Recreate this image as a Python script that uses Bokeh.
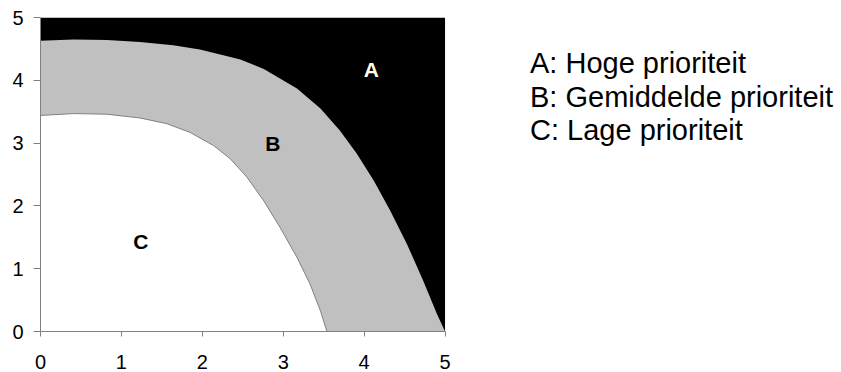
from bokeh.plotting import figure
from bokeh.models import Range1d, FixedTicker
from bokeh.core.properties import value
from bokeh.embed import file_html
from bokeh.resources import INLINE

# Boundary between A (high) and B (medium)
outer_x = [0.0, 0.41, 0.82, 1.23, 1.64, 1.97, 2.26, 2.47, 2.76, 3.17, 3.46, 3.70, 3.91, 4.12, 4.32, 4.53, 4.73, 4.90, 5.0]
outer_y = [4.63, 4.65, 4.64, 4.61, 4.56, 4.49, 4.40, 4.33, 4.18, 3.87, 3.55, 3.20, 2.83, 2.40, 1.93, 1.39, 0.81, 0.28, 0.0]

# Boundary between B (medium) and C (low)
inner_x = [0.0, 0.41, 0.82, 1.23, 1.56, 1.85, 2.14, 2.345, 2.55, 2.76, 2.96, 3.17, 3.33, 3.46, 3.54]
inner_y = [3.44, 3.47, 3.46, 3.40, 3.31, 3.17, 2.96, 2.75, 2.46, 2.08, 1.66, 1.18, 0.76, 0.33, 0.0]

region_labels = ["A", "B", "C"]
region_x = [4.09, 2.87, 1.24]
region_y = [4.17, 2.99, 1.43]
region_colors = ["#FFFFE8", "#000000", "#000000"]

legend_texts = ["A: Hoge prioriteit", "B: Gemiddelde prioriteit", "C: Lage prioriteit"]

ticks = [0, 1, 2, 3, 4, 5]
axis_max = 5

FONT = "Liberation Sans"

p = figure(width=841, height=372, output_backend="svg", toolbar_location=None,
           x_range=Range1d(0, 9.90), y_range=Range1d(0, axis_max),
           min_border_left=40, min_border_right=0, min_border_top=17, min_border_bottom=41)
p.outline_line_color = None
p.grid.visible = False
p.background_fill_color = "white"
p.border_fill_color = "white"

# A region: full square, black
p.patch([0, axis_max, axis_max, 0], [0, 0, axis_max, axis_max], fill_color="black", line_color=None)
# B region
p.patch([0] + outer_x + [axis_max], [0] + outer_y + [0], fill_color="#C0C0C0", line_color=None)
# C region
p.patch([0] + inner_x + [inner_x[-1]], [0] + inner_y + [0], fill_color="white", line_color=None)
p.line(inner_x, inner_y, line_color="#808080", line_width=1)

p.text(x=region_x, y=region_y, text=region_labels, text_color=region_colors,
       text_font=value(FONT), text_font_size="21px", text_font_style="bold",
       text_align="center", text_baseline="middle")

legend_x = [6.05, 6.05, 6.05]
legend_y = [4.27, 3.74, 3.21]
p.text(x=legend_x, y=legend_y, text=legend_texts, text_color="black",
       text_font=value(FONT), text_font_size="29px",
       text_align="left", text_baseline="middle")

for ax in (p.xaxis[0], p.yaxis[0]):
    ax.bounds = (0, axis_max)
    ax.ticker = FixedTicker(ticks=ticks)
    ax.axis_line_color = "#808080"
    ax.major_tick_line_color = "#808080"
    ax.minor_tick_line_color = None
    ax.major_tick_in = 0
    ax.major_label_text_font = FONT
    ax.major_label_text_font_size = "20px"
    ax.major_label_text_color = "black"

p.xaxis[0].major_tick_out = 5
p.xaxis[0].major_label_standoff = 18
p.yaxis[0].major_tick_out = 7
p.yaxis[0].major_label_standoff = 10

open("out.html", "w").write(file_html(p, INLINE))
